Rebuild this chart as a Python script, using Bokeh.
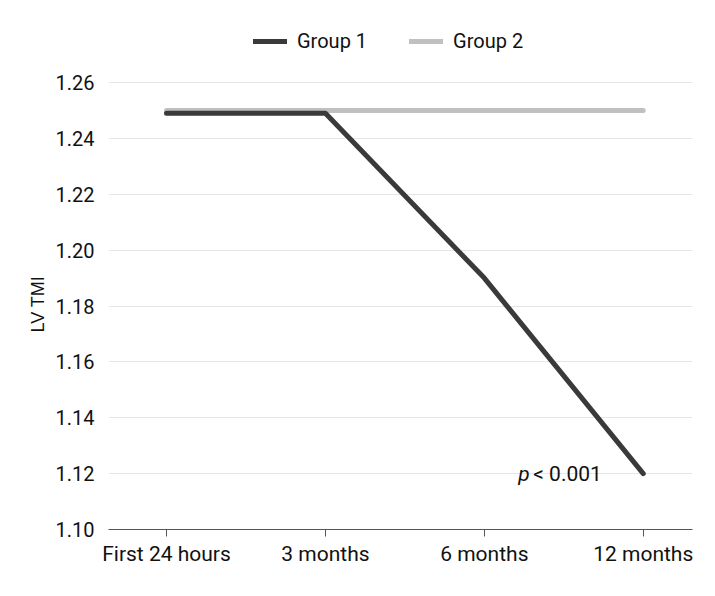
from bokeh.plotting import figure
from bokeh.models import ColumnDataSource, Legend, LegendItem, FixedTicker, Range1d, Label, Title
from bokeh.embed import file_html
from bokeh.resources import INLINE

categories = ["First 24 hours", "3 months", "6 months", "12 months"]
group1 = [1.249, 1.249, 1.19, 1.12]
group2 = [1.25, 1.25, 1.25, 1.25]
y_ticks = [1.10, 1.12, 1.14, 1.16, 1.18, 1.20, 1.22, 1.24, 1.26]

FONT = "Roboto"
xs = list(range(len(categories)))

p = figure(width=699, height=580, output_backend="svg", toolbar_location=None,
           x_range=Range1d(-0.365, 3.31), y_range=Range1d(1.10, 1.2822),
           min_border_left=108, min_border_right=7, min_border_top=20, min_border_bottom=51)
p.outline_line_color = None

src = ColumnDataSource(dict(x=xs, g1=group1, g2=group2))
r2 = p.line("x", "g2", source=src, line_color="#c0c0c0", line_width=5, line_cap="round")
r1 = p.line("x", "g1", source=src, line_color="#3a3a3a", line_width=5, line_cap="round", line_join="round")

p.xaxis.ticker = FixedTicker(ticks=xs)
p.xaxis.major_label_overrides = {i: c for i, c in enumerate(categories)}
p.xaxis.axis_line_color = "#555555"
p.xaxis.major_tick_line_color = "#555555"
p.xaxis.major_tick_out = 7
p.xaxis.major_tick_in = 0
p.xaxis.minor_tick_line_color = None
p.xaxis.major_label_text_font = FONT
p.xaxis.major_label_text_font_size = "21px"
p.xaxis.major_label_text_color = "#111111"
p.xaxis.major_label_standoff = 5

p.yaxis.ticker = FixedTicker(ticks=y_ticks)
p.yaxis.major_label_overrides = {t: f"{t:.2f}" for t in y_ticks}
p.yaxis.axis_line_color = None
p.yaxis.major_tick_line_color = None
p.yaxis.minor_tick_line_color = None
p.yaxis.major_label_text_font = FONT
p.yaxis.major_label_text_font_size = "20px"
p.yaxis.major_label_text_color = "#111111"
p.yaxis.major_label_standoff = 8

p.xgrid.grid_line_color = None
p.ygrid.ticker = FixedTicker(ticks=y_ticks)
p.ygrid.grid_line_color = "#e6e6e6"
p.ygrid.grid_line_width = 1

# y-axis title, anchored from the bottom so it sits centred on the 1.10-1.26 span
p.add_layout(Title(text="LV TMI", align="left", offset=197,
                   text_font="Liberation Sans", text_font_size="18px",
                   text_font_style="normal", text_color="#111111"), "left")

p.add_layout(Label(x=3, y=1.12, text="p", text_font=FONT, text_font_style="italic",
                   text_font_size="21px", text_baseline="middle", text_align="left",
                   x_offset=-125, y_offset=0, text_color="#111111"))
p.add_layout(Label(x=3, y=1.12, text="< 0.001", text_font=FONT,
                   text_font_size="21px", text_baseline="middle", text_align="left",
                   x_offset=-110, y_offset=0, text_color="#111111"))

legend = Legend(items=[LegendItem(label="Group 1", renderers=[r1]),
                       LegendItem(label="Group 2", renderers=[r2])],
                orientation="horizontal", location=(145, 476),
                label_text_font=FONT, label_text_font_size="20px", label_text_color="#111111",
                glyph_width=34, glyph_height=20, spacing=42, label_standoff=10,
                border_line_color=None, background_fill_alpha=0, padding=0, margin=0)
p.add_layout(legend, "center")

open("out.html", "w").write(file_html(p, INLINE))
